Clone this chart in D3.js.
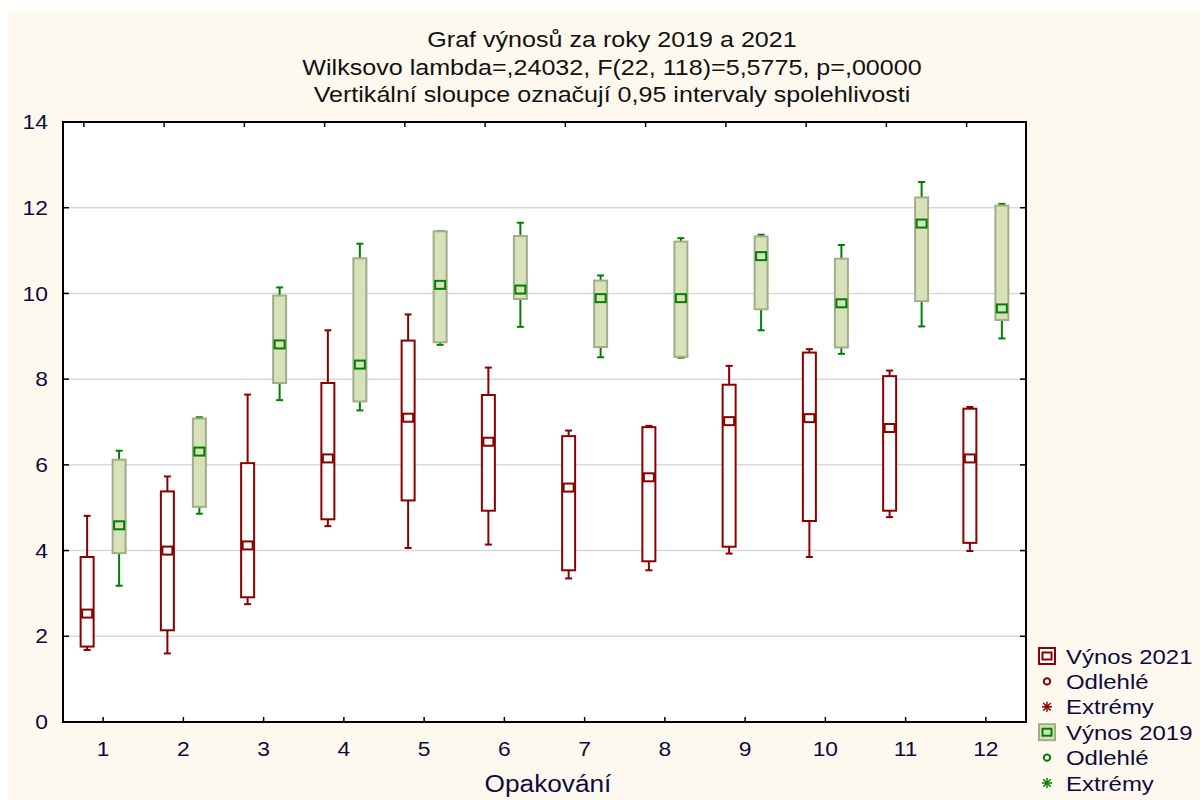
<!DOCTYPE html>
<html>
<head>
<meta charset="utf-8">
<script src="https://cdn.jsdelivr.net/npm/d3@7"></script>
<style>
  html, body { margin: 0; padding: 0; background: #ffffff; }
  svg { display: block; }
  text { font-family: "Liberation Sans", Arial, sans-serif; }
</style>
</head>
<body>
<svg id="chart" width="1200" height="800"></svg>
<script>
// ---------- DATA ----------
const categories = ["1","2","3","4","5","6","7","8","9","10","11","12"];

// Výnos 2021
const whiskerLow2021  = [1.68, 1.60, 2.75, 4.57, 4.06, 4.14, 3.35, 3.54, 3.93, 3.85, 4.78, 3.99];
const boxLow2021      = [1.76, 2.14, 2.91, 4.73, 5.17, 4.93, 3.54, 3.75, 4.09, 4.69, 4.93, 4.18];
const mean2021        = [2.53, 4.00, 4.12, 6.15, 7.10, 6.54, 5.47, 5.71, 7.02, 7.09, 6.86, 6.15];
const boxHigh2021     = [3.85, 5.38, 6.04, 7.91, 8.90, 7.63, 6.67, 6.88, 7.87, 8.62, 8.07, 7.31];
const whiskerHigh2021 = [4.81, 5.73, 7.64, 9.14, 9.51, 8.27, 6.80, 6.91, 8.31, 8.70, 8.20, 7.35];

// Výnos 2019
const whiskerLow2019  = [3.18, 4.86, 7.51, 7.27, 8.80, 9.22, 8.51, 8.50, 9.14, 8.59, 9.23, 8.95];
const boxLow2019      = [3.94, 5.02, 7.91, 7.48, 8.86, 9.87, 8.75, 8.52, 9.63, 8.74, 9.82, 9.38];
const mean2019        = [4.59, 6.31, 8.81, 8.34, 10.20, 10.09, 9.89, 9.89, 10.87, 9.77, 11.63, 9.65];
const boxHigh2019     = [6.12, 7.08, 9.95, 10.82, 11.45, 11.34, 10.30, 11.21, 11.33, 10.81, 12.24, 12.05];
const whiskerHigh2019 = [6.33, 7.11, 10.14, 11.16, 11.45, 11.65, 10.42, 11.29, 11.37, 11.13, 12.60, 12.09];

const yTicks = [0, 2, 4, 6, 8, 10, 12, 14];
const titleLines = [
  "Graf výnosů za roky 2019 a 2021",
  "Wilksovo lambda=,24032, F(22, 118)=5,5775, p=,00000",
  "Vertikální sloupce označují 0,95 intervaly spolehlivosti"
];
const xAxisTitle = "Opakování";
const legendItems = [
  {label: "Výnos 2021", kind: "box", series: "r"},
  {label: "Odlehlé", kind: "circle", series: "r"},
  {label: "Extrémy", kind: "star", series: "r"},
  {label: "Výnos 2019", kind: "box", series: "g"},
  {label: "Odlehlé", kind: "circle", series: "g"},
  {label: "Extrémy", kind: "star", series: "g"}
];

// ---------- STYLE ----------
const RED = "#8b0000";
const GREEN = "#008000";
const GREEN_FILL = "#d7e2bb";
const GREEN_EDGE = "#a2ad88";
const TEXT = "#0c0c3c";
const BG = "#fef9ef";
const STRETCH = 1.14; // horizontal text stretch seen in the reference

const svg = d3.select("#chart");
const W = 1200, H = 800;
const plot = {left: 63, right: 1026, top: 122, bottom: 722};

function stretch(sel) {
  sel.each(function() {
    const len = this.getComputedTextLength();
    d3.select(this).attr("textLength", len * STRETCH).attr("lengthAdjust", "spacingAndGlyphs");
  });
}

svg.append("rect").attr("x", 8).attr("y", 10).attr("width", W - 8).attr("height", H - 10).attr("fill", BG);

const x = d3.scaleBand().domain(categories).range([plot.left, plot.right]).paddingInner(0).paddingOuter(0);
const y = d3.scaleLinear().domain([0, 14]).range([plot.bottom, plot.top]);
const bw = x.bandwidth();
const cx = c => x(c) + bw / 2;

// plot area background
svg.append("rect").attr("x", plot.left).attr("y", plot.top)
  .attr("width", plot.right - plot.left).attr("height", plot.bottom - plot.top).attr("fill", "#ffffff");

// gridlines
svg.append("g").selectAll("line").data(yTicks.filter(t => t > 0 && t < 14)).join("line")
  .attr("x1", plot.left).attr("x2", plot.right)
  .attr("y1", d => y(d)).attr("y2", d => y(d))
  .attr("stroke", "#d9d9d9").attr("stroke-width", 1.5);

// series drawing
function drawSeries(wl, bl, mn, bh, wh, offset, opts) {
  const g = svg.append("g");
  const data = categories.map((c, i) => ({c, wl: wl[i], bl: bl[i], mn: mn[i], bh: bh[i], wh: wh[i]}));
  const bxw = 13, capw = 7, mw = 10, mh = 8;
  const px = d => cx(d.c) + offset;
  g.selectAll(".wh").data(data).join("line")
    .attr("x1", px).attr("x2", px)
    .attr("y1", d => y(d.wl)).attr("y2", d => y(d.wh))
    .attr("stroke", opts.whisker).attr("stroke-width", 2);
  ["wl", "wh"].forEach(k => {
    g.selectAll(".cap" + k).data(data).join("line")
      .attr("x1", d => px(d) - capw / 2).attr("x2", d => px(d) + capw / 2)
      .attr("y1", d => y(d[k])).attr("y2", d => y(d[k]))
      .attr("stroke", opts.whisker).attr("stroke-width", 2);
  });
  g.selectAll(".box").data(data).join("rect")
    .attr("x", d => px(d) - bxw / 2).attr("width", bxw)
    .attr("y", d => y(d.bh)).attr("height", d => y(d.bl) - y(d.bh))
    .attr("fill", opts.fill).attr("stroke", opts.edge).attr("stroke-width", 2);
  g.selectAll(".mean").data(data).join("rect")
    .attr("x", d => px(d) - mw / 2).attr("width", mw)
    .attr("y", d => y(d.mn) - mh / 2).attr("height", mh)
    .attr("fill", opts.fill).attr("stroke", opts.whisker).attr("stroke-width", 2);
}

drawSeries(whiskerLow2021, boxLow2021, mean2021, boxHigh2021, whiskerHigh2021, -16,
  {whisker: RED, fill: "#ffffff", edge: RED});
drawSeries(whiskerLow2019, boxLow2019, mean2019, boxHigh2019, whiskerHigh2019, 16,
  {whisker: GREEN, fill: GREEN_FILL, edge: GREEN_EDGE});

// frame
svg.append("rect").attr("x", plot.left).attr("y", plot.top)
  .attr("width", plot.right - plot.left).attr("height", plot.bottom - plot.top)
  .attr("fill", "none").attr("stroke", "#000").attr("stroke-width", 2);

// ticks
const tickG = svg.append("g").attr("stroke", "#000").attr("stroke-width", 1.5);
tickG.selectAll(".yl").data(yTicks).join("line")
  .attr("x1", plot.left).attr("x2", plot.left + 6)
  .attr("y1", d => y(d)).attr("y2", d => y(d));
tickG.selectAll(".yr").data(yTicks).join("line")
  .attr("x1", plot.right - 6).attr("x2", plot.right)
  .attr("y1", d => y(d)).attr("y2", d => y(d));
tickG.selectAll(".xb").data(categories).join("line")
  .attr("x1", d => cx(d)).attr("x2", d => cx(d))
  .attr("y1", plot.bottom).attr("y2", plot.bottom - 5);
tickG.selectAll(".xt").data(categories).join("line")
  .attr("x1", d => cx(d) - bw * 0.24).attr("x2", d => cx(d) - bw * 0.24)
  .attr("y1", plot.top).attr("y2", plot.top + 5);

// y labels
svg.append("g").selectAll("text").data(yTicks).join("text")
  .attr("x", 48).attr("y", d => y(d)).attr("dy", "0.36em")
  .attr("text-anchor", "end").attr("font-size", 20).attr("fill", TEXT)
  .text(d => d).call(stretch);

// x labels
svg.append("g").selectAll("text").data(categories).join("text")
  .attr("x", d => cx(d)).attr("y", 756)
  .attr("text-anchor", "middle").attr("font-size", 20).attr("fill", TEXT)
  .text(d => d).call(stretch);

// x-axis title
svg.append("text").attr("x", 548).attr("y", 792)
  .attr("text-anchor", "middle").attr("font-size", 23).attr("fill", TEXT).text(xAxisTitle).call(stretch);

// title
svg.append("g").selectAll("text").data(titleLines).join("text")
  .attr("x", 612).attr("y", (d, i) => 47 + i * 27.5)
  .attr("text-anchor", "middle").attr("font-size", 22).attr("fill", "#111")
  .text(d => d).call(stretch);

// legend
const lg = svg.append("g");
legendItems.forEach((it, i) => {
  const ly = 656 + i * 25.4;
  const col = it.series === "r" ? RED : GREEN;
  const ix = 1047;
  if (it.kind === "box") {
    lg.append("rect").attr("x", ix - 8).attr("y", ly - 8).attr("width", 16).attr("height", 16)
      .attr("fill", it.series === "r" ? "#fff" : GREEN_FILL)
      .attr("stroke", it.series === "r" ? RED : GREEN_EDGE).attr("stroke-width", 2);
    lg.append("rect").attr("x", ix - 4.5).attr("y", ly - 3.5).attr("width", 9).attr("height", 7)
      .attr("fill", "none").attr("stroke", col).attr("stroke-width", 2);
  } else if (it.kind === "circle") {
    lg.append("circle").attr("cx", ix).attr("cy", ly).attr("r", 3.2)
      .attr("fill", "none").attr("stroke", col).attr("stroke-width", 2);
  } else {
    const s = 5;
    [[-s, 0, s, 0], [0, -s, 0, s], [-s * 0.75, -s * 0.75, s * 0.75, s * 0.75], [-s * 0.75, s * 0.75, s * 0.75, -s * 0.75]]
      .forEach(l => lg.append("line").attr("x1", ix + l[0]).attr("y1", ly + l[1]).attr("x2", ix + l[2]).attr("y2", ly + l[3])
        .attr("stroke", col).attr("stroke-width", 1.5));
  }
  lg.append("text").attr("x", 1066).attr("y", ly).attr("dy", "0.36em")
    .attr("font-size", 21).attr("fill", TEXT).text(it.label).call(stretch);
});
</script>
</body>
</html>
